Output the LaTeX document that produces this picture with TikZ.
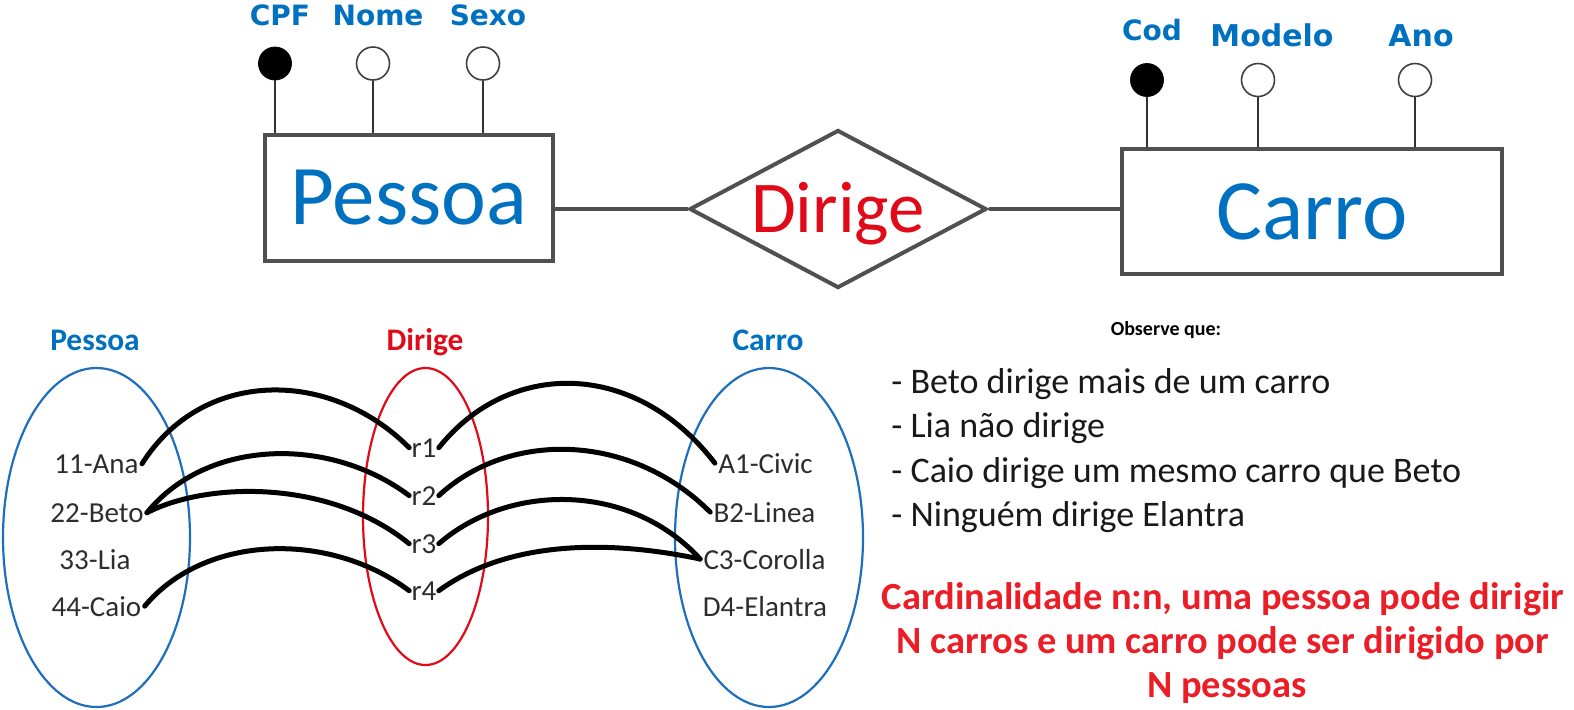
\documentclass[tikz,border=0pt]{standalone}
\usepackage{fontspec}
\setmainfont{Carlito}
\newfontfamily\dejavu{DejaVu Sans}
\usetikzlibrary{shapes.geometric}
\definecolor{erblue}{RGB}{0,112,192}
\definecolor{ellblue}{RGB}{30,110,190}
\definecolor{erred}{RGB}{225,10,25}
\definecolor{notered}{RGB}{235,30,40}
\definecolor{bordergray}{RGB}{80,80,80}
\definecolor{itemgray}{RGB}{45,45,45}
\definecolor{notegray}{RGB}{25,25,25}
\begin{document}
\begin{tikzpicture}[x=0.5pt,y=-0.5pt,
  entity/.style={draw=bordergray,line width=2pt,rectangle,inner sep=0pt,text=erblue},
  attrline/.style={draw=black!80,line width=1pt},
  keyattr/.style={circle,fill=black,draw=black,minimum size=16.5pt,inner sep=0pt},
  plainattr/.style={circle,fill=white,draw=black!75,line width=0.8pt,minimum size=16.5pt,inner sep=0pt},
  attrlabel/.style={font=\dejavu\bfseries\fontsize{14}{16}\selectfont,text=erblue,anchor=base,inner sep=0pt},
  setlabel/.style={font=\bfseries\fontsize{15.7}{18}\selectfont,anchor=base,inner sep=0pt},
  item/.style={font=\fontsize{14.5}{17}\selectfont,text=itemgray,anchor=base,inner sep=1.5pt},
  link/.style={line width=2.5pt,line cap=round},
  note/.style={font=\fontsize{18}{21}\selectfont,text=notegray,anchor=base west,inner sep=0pt},
  cardnote/.style={font=\bfseries\fontsize{19.2}{22}\selectfont,text=notered,anchor=base,inner sep=0pt},
]
\useasboundingbox (0,0) rectangle (1574,709);

% ---------- ER diagram ----------
\node[entity,minimum width=144pt,minimum height=63pt,font=\fontsize{42.5}{50}\selectfont] (pessoa) at (409,198) {Pessoa};
\node[entity,minimum width=190pt,minimum height=62.5pt,font=\fontsize{43}{50}\selectfont] (carro) at (1312,211.5) {Carro};
\node[diamond,draw=bordergray,line width=2pt,minimum width=148.5pt,minimum height=79pt,inner sep=0pt,aspect=1.88] (dirige) at (838,209) {};
\node[font=\fontsize{36.5}{40}\selectfont,text=erred,anchor=base,inner sep=0pt] (dirigetxt) at (838,232) {Dirige};
\draw[bordergray,line width=2pt] (pessoa.east |- dirige.west) -- (dirige.west);
\draw[bordergray,line width=2pt] (dirige.east) -- (carro.west |- dirige.east);

% attributes of Pessoa
\node[keyattr] (cpf) at (275,63.5) {};
\node[plainattr] (nome) at (373,63.5) {};
\node[plainattr] (sexo) at (483,63.5) {};
\draw[attrline] (cpf) -- (cpf |- pessoa.north);
\draw[attrline] (nome) -- (nome |- pessoa.north);
\draw[attrline] (sexo) -- (sexo |- pessoa.north);
\node[attrlabel] (cpfl) at (280,25) {CPF};
\node[attrlabel] (nomel) at (378,25) {Nome};
\node[attrlabel] (sexol) at (488,25) {Sexo};

% attributes of Carro
\node[keyattr] (cod) at (1147,80) {};
\node[plainattr] (modelo) at (1258,80) {};
\node[plainattr] (ano) at (1415,80) {};
\draw[attrline] (cod) -- (cod |- carro.north);
\draw[attrline] (modelo) -- (modelo |- carro.north);
\draw[attrline] (ano) -- (ano |- carro.north);
\node[attrlabel] (codl) at (1152,40) {Cod};
\node[attrlabel,font=\dejavu\bfseries\fontsize{15}{17}\selectfont] (modelol) at (1272,46) {Modelo};
\node[attrlabel,font=\dejavu\bfseries\fontsize{15}{17}\selectfont] (anol) at (1421,46) {Ano};

% ---------- set diagram ----------
\node[setlabel,text=erblue] (setp) at (95,350) {Pessoa};
\node[setlabel,text=erred] (setd) at (425,350) {Dirige};
\node[setlabel,text=erblue] (setc) at (768,350) {Carro};

\draw[ellblue,line width=1.1pt] (96.5,537.5) ellipse [x radius=93.5, y radius=169.5];
\draw[erred,line width=1.1pt] (425.5,516.5) ellipse [x radius=62.5, y radius=148.5];
\draw[ellblue,line width=1.1pt] (769,537.5) ellipse [x radius=94, y radius=169.5];

\node[item] (ana) at (96.5,473) {11-Ana};
\node[item] (beto) at (97,522) {22-Beto};
\node[item] (lia) at (95,569) {33-Lia};
\node[item] (caio) at (96.5,616) {44-Caio};

\node[item,inner sep=1pt] (r1) at (424,457) {r1};
\node[item,inner sep=1pt] (r2) at (424,505) {r2};
\node[item,inner sep=1pt] (r3) at (424,553) {r3};
\node[item,inner sep=1pt] (r4) at (424,600) {r4};

\node[item] (civic) at (765.5,473) {A1-Civic};
\node[item] (linea) at (764.5,522) {B2-Linea};
\node[item] (corolla) at (764.5,569) {C3-Corolla};
\node[item] (elantra) at (765,616) {D4-Elantra};

\draw[link] (ana.east) .. controls +(60,-95) and +(-80,-80) .. (r1.west);
\draw[link] (beto.east) .. controls +(60,-74) and +(-80,-60) .. (r2.west);
\draw[link] (beto.east) .. controls +(60,-31) and +(-80,-65) .. (r3.west);
\draw[link] (caio.east) .. controls +(60,-72) and +(-80,-60) .. (r4.west);

\draw[link] (r1.east) .. controls +(70,-88) and +(-80,-104) .. (civic.west);
\draw[link] (r2.east) .. controls +(70,-65) and +(-80,-80) .. (linea.west);
\draw[link] (r3.east) .. controls +(70,-61) and +(-70,-77) .. (corolla.west);
\draw[link] (r4.east) .. controls +(70,-51) and +(-90,-19) .. (corolla.west);

% ---------- notes ----------
\node[font=\bfseries\fontsize{10}{12}\selectfont,anchor=base,inner sep=0pt] (obs) at (1166,335) {Observe que:};
\node[note] (n1) at (891,393) {- Beto dirige mais de um carro};
\node[note] (n2) at (891,437) {- Lia não dirige};
\node[note] (n3) at (891,482) {- Caio dirige um mesmo carro que Beto};
\node[note] (n4) at (891,526) {- Ninguém dirige Elantra};

\node[cardnote] (c1) at (1223,609) {Cardinalidade n:n, uma pessoa pode dirigir};
\node[cardnote] (c2) at (1223,653) {N carros e um carro pode ser dirigido por};
\node[cardnote] (c3) at (1227,697) {N pessoas};
\end{tikzpicture}
\end{document}
